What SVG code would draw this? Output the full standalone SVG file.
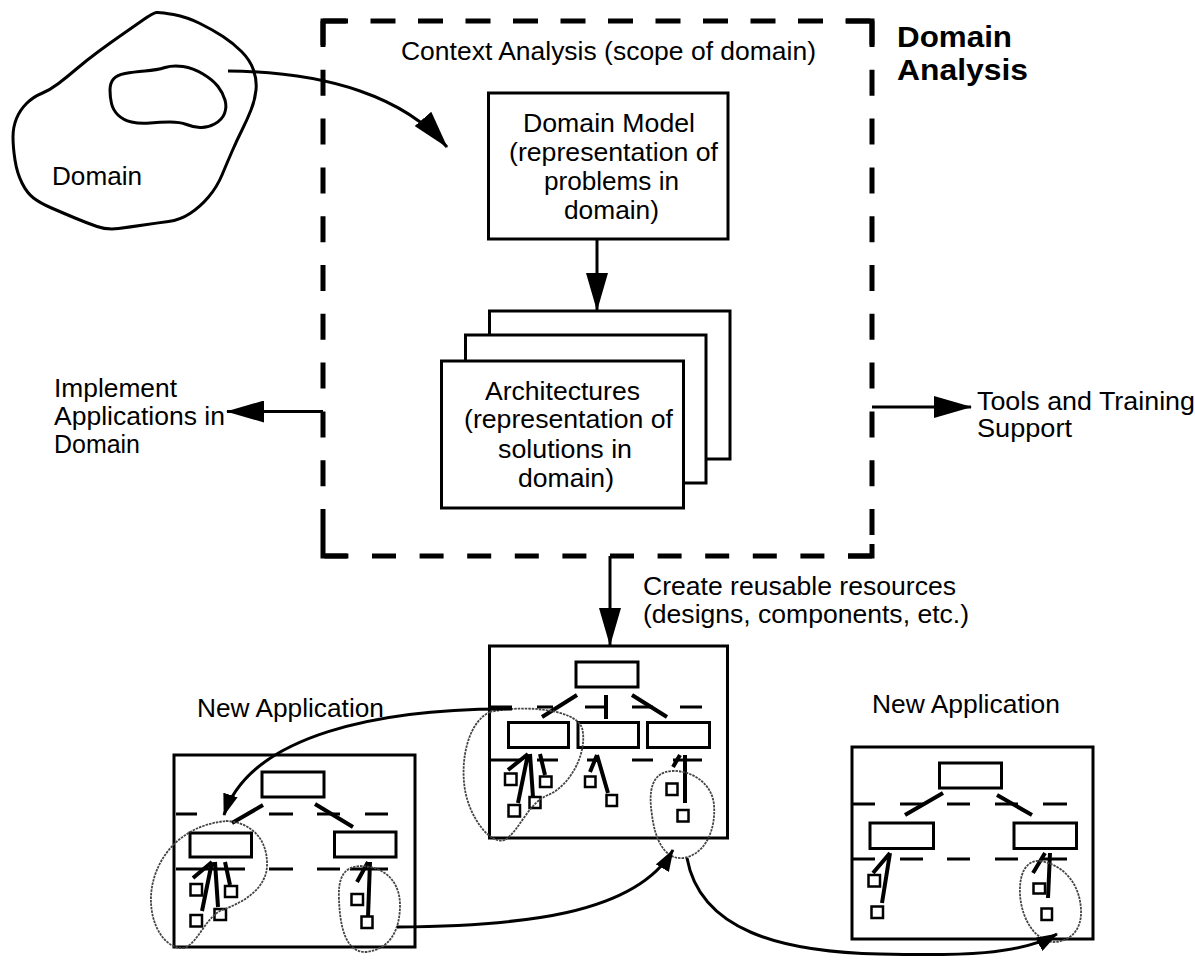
<svg xmlns="http://www.w3.org/2000/svg" width="1195" height="964" viewBox="0 0 1195 964">
<defs>
<style>
.t{font-family:'Liberation Sans',Arial,Helvetica,sans-serif;font-size:25px;fill:#000}
.b{font-weight:bold;font-size:29px}
.box{fill:#fff;stroke:#000;stroke-width:3}
.ln{fill:none;stroke:#000;stroke-width:3;stroke-linejoin:round}
.thk{fill:none;stroke:#000;stroke-width:4}
.dr{fill:none;stroke:#000;stroke-width:3}
.sq{fill:#fff;stroke:#000;stroke-width:2.5}
.dot{fill:none;stroke:#444;stroke-width:1.8;stroke-dasharray:2.5 1}
.bd{fill:none;stroke:#000;stroke-width:5}
</style>
<marker id="ah" markerUnits="userSpaceOnUse" markerWidth="38" markerHeight="22" viewBox="0 0 38 22" refX="37" refY="11" orient="auto"><path d="M0,0 L38,11 L0,22 Z" fill="#000"/></marker>
<marker id="ahs" markerUnits="userSpaceOnUse" markerWidth="22" markerHeight="15" viewBox="0 0 22 15" refX="21" refY="7.5" orient="auto"><path d="M0,0 L22,7.5 L0,15 Z" fill="#000"/></marker>
</defs>
<rect width="1195" height="964" fill="#fff"/>

<g id="domain">
<path class="ln" d="M156.5,12.5 Q160,12 173.5,14.5 Q187,17 200,23.5 Q213,30 223,36.5 Q233,43 241.5,51.5 Q250,60 253.5,70 Q257,80 256,90 Q255,100 251,110 Q247,120 242,130 Q237,140 232,151.5 Q227,163 222,175 Q217,187 208.5,197 Q200,207 190,213.5 Q180,220 168.5,221.5 Q157,223 143.5,225 Q130,227 118.5,228.5 Q107,230 97,226.5 Q87,223 75,218 Q63,213 51.5,208 Q40,203 33.5,198 Q27,193 22,183 Q17,173 15,160 Q13,147 13,137 Q13,127 16.5,118.5 Q20,110 26.5,103.5 Q33,97 41.5,93.5 Q50,90 58.5,83.5 Q67,77 77,68.5 Q87,60 98.5,51.5 Q110,43 121.5,35 Q133,27 143,20 Q153,13 156.5,12.5 Z"/>
<path class="ln" d="M110,90 Q110,83 113.5,79 Q117,75 125,73.5 Q133,72 145,71 Q157,70 165,67.5 Q173,65 183,66.5 Q193,68 203,74 Q213,80 218,86.5 Q223,93 225,100 Q227,107 224.5,113.5 Q222,120 214.5,124 Q207,128 200,127.5 Q193,127 186.5,124.5 Q180,122 170,122 Q160,122 150,123 Q140,124 131.5,122 Q123,120 118,115 Q113,110 111.5,103.5 Q110,97 110,90 Z"/>
<text class="t" x="52" y="185" textLength="90" lengthAdjust="spacingAndGlyphs">Domain</text>
</g>

<g id="domain-analysis">
<path class="bd" d="M323,21 V556" stroke-dasharray="26 22.8"/>
<path class="bd" d="M872,21 V556" stroke-dasharray="26 22.8"/>
<path class="bd" d="M323,21 H872" stroke-dasharray="25 22.5"/>
<path class="bd" d="M872,556 H323" stroke-dasharray="24 23.6"/>
<path class="bd" d="M323,45 V21 H346"/>
<path class="bd" d="M846,21 H872 V45"/>
<path class="bd" d="M872,544 V556 H848"/>
<path class="bd" d="M323,535 V556 H347"/>
<text class="t" x="401" y="60" textLength="415" lengthAdjust="spacingAndGlyphs">Context Analysis (scope of domain)</text>
<text class="t b" x="897" y="47" textLength="115" lengthAdjust="spacingAndGlyphs">Domain</text>
<text class="t b" x="897" y="80" textLength="131" lengthAdjust="spacingAndGlyphs">Analysis</text>
</g>

<g id="domain-model">
<rect class="box" x="488.5" y="93" width="239.5" height="146"/>
<text class="t" x="523" y="132" textLength="172" lengthAdjust="spacingAndGlyphs">Domain Model</text>
<text class="t" x="509" y="161" textLength="209" lengthAdjust="spacingAndGlyphs">(representation of</text>
<text class="t" x="544" y="190" textLength="135" lengthAdjust="spacingAndGlyphs">problems in</text>
<text class="t" x="564" y="219" textLength="95" lengthAdjust="spacingAndGlyphs">domain)</text>
</g>

<g id="architectures">
<rect class="box" x="489.5" y="311" width="240.5" height="148"/>
<rect class="box" x="465.5" y="335" width="240.5" height="148"/>
<rect class="box" x="441.5" y="361" width="242" height="147"/>
<text class="t" x="485" y="400" textLength="155" lengthAdjust="spacingAndGlyphs">Architectures</text>
<text class="t" x="464" y="428" textLength="209" lengthAdjust="spacingAndGlyphs">(representation of</text>
<text class="t" x="498" y="458" textLength="134" lengthAdjust="spacingAndGlyphs">solutions in</text>
<text class="t" x="518" y="487" textLength="96" lengthAdjust="spacingAndGlyphs">domain)</text>
</g>

<g id="implement">
<text class="t" x="54" y="397" textLength="123" lengthAdjust="spacingAndGlyphs">Implement</text>
<text class="t" x="54" y="425" textLength="171" lengthAdjust="spacingAndGlyphs">Applications in</text>
<text class="t" x="54" y="453" textLength="86" lengthAdjust="spacingAndGlyphs">Domain</text>
</g>

<g id="tools">
<text class="t" x="977" y="410" textLength="218" lengthAdjust="spacingAndGlyphs">Tools and Training</text>
<text class="t" x="977" y="437" textLength="95" lengthAdjust="spacingAndGlyphs">Support</text>
</g>

<g id="resources-label">
<text class="t" x="643" y="595" textLength="313" lengthAdjust="spacingAndGlyphs">Create reusable resources</text>
<text class="t" x="643" y="623" textLength="326" lengthAdjust="spacingAndGlyphs">(designs, components, etc.)</text>
</g>

<g id="app-center">
<rect class="box" x="489.5" y="646" width="238" height="192"/>
<rect class="box" x="576" y="662" width="62" height="25"/>
<path class="dr" d="M490,707 H512 M537,707 H553 M585,707 H607 M632,707 H653 M680,707 H702"/>
<path class="thk" d="M577,695 L542,717 M606,695 V719 M632,695 L667,717"/>
<rect class="box" x="508.5" y="722.5" width="60" height="25"/>
<rect class="box" x="578" y="722.5" width="60.5" height="25"/>
<rect class="box" x="647.5" y="722.5" width="62" height="25"/>
<path class="dr" d="M490,760 H520 M537,760 H558 M587,760 H598 M632,760 H653 M673,760 H702"/>
<path class="thk" d="M528,754 L508,770 M528,754 L518,803 M530,754 L533,797 M540,754 L545,775 M597,755 L590,772 M597,755 L608,793 M680,755 L673,767 M685,755 L685,803"/>
<rect class="sq" x="505" y="773.5" width="11.5" height="11.5"/>
<rect class="sq" x="508.5" y="805" width="11.5" height="11.5"/>
<rect class="sq" x="529.5" y="797" width="11" height="11"/>
<rect class="sq" x="540" y="776.5" width="11.5" height="10.5"/>
<rect class="sq" x="585" y="776.5" width="10.5" height="10.5"/>
<rect class="sq" x="606.5" y="795" width="10.5" height="11"/>
<rect class="sq" x="666.5" y="783.5" width="11" height="11.5"/>
<rect class="sq" x="677.5" y="810" width="11" height="11.5"/>
<path class="dot" d="M490,712 C520,705 575,708 582,728 C588,750 572,785 548,795 C528,803 520,830 505,840 C490,845 470,818 465,790 C460,760 468,722 490,712 Z"/>
<path class="dot" d="M672,771 C690,770 712,782 714,805 C716,830 705,855 683,858 C665,860 655,840 652,815 C648,790 652,772 672,771 Z"/>
</g>

<g id="app-left">
<text class="t" x="197" y="717" textLength="187" lengthAdjust="spacingAndGlyphs">New Application</text>
<rect class="box" x="174" y="755" width="241" height="192"/>
<rect class="box" x="262" y="772" width="62" height="25"/>
<path class="dr" d="M176,814 H197 M269,814 H293 M317,814 H340 M365,814 H388"/>
<path class="thk" d="M263,805 L232,823 M315,804 L353,827"/>
<rect class="box" x="190" y="833" width="61.5" height="24"/>
<rect class="box" x="334.5" y="832" width="61.5" height="25"/>
<path class="dr" d="M176,869 H245 M269,869 H293 M317,869 H340 M350,869 H388"/>
<path class="thk" d="M212,862 L193,878 M212,862 L202,911 M215,862 L218,907 M225,862 L230,885 M368,862 L357,882 M370,862 L368,917"/>
<rect class="sq" x="190.5" y="884" width="11.5" height="11.5"/>
<rect class="sq" x="190.5" y="915" width="11.5" height="11.5"/>
<rect class="sq" x="214.5" y="909" width="11.5" height="11"/>
<rect class="sq" x="225" y="886" width="12" height="11"/>
<rect class="sq" x="351.5" y="894" width="11.5" height="11"/>
<rect class="sq" x="361.5" y="916.5" width="11" height="11.5"/>
<path class="dot" d="M226,821 C250,822 268,838 267,866 C266,888 245,902 222,910 C205,918 200,940 185,948 C165,950 150,925 151,897 C152,865 175,826 226,821 Z"/>
<path class="dot" d="M360,866 C385,866 400,882 400,905 C400,930 390,950 365,952 C345,952 340,925 339,900 C338,880 342,867 360,866 Z"/>
</g>

<g id="app-right">
<text class="t" x="872" y="713" textLength="188" lengthAdjust="spacingAndGlyphs">New Application</text>
<rect class="box" x="852" y="747" width="241" height="192"/>
<rect class="box" x="939.5" y="763" width="62" height="25"/>
<path class="dr" d="M853,804 H875 M900,804 H923 M947,804 H970 M995,804 H1018 M1043,804 H1067"/>
<path class="thk" d="M943,793 L905,815 M997,795 L1032,815"/>
<rect class="box" x="870" y="823" width="63.5" height="25.5"/>
<rect class="box" x="1014" y="823" width="62.5" height="25.5"/>
<path class="dr" d="M853,859 H875 M900,859 H923 M947,859 H970 M995,859 H1018 M1043,859 H1067"/>
<path class="thk" d="M890,853 L873,873 M890,853 L882,903 M1045,853 L1033,873 M1050,853 L1048,898"/>
<rect class="sq" x="868.5" y="875" width="11.5" height="11.5"/>
<rect class="sq" x="871.5" y="906.5" width="11.5" height="11.5"/>
<rect class="sq" x="1033.5" y="883.5" width="11.5" height="10"/>
<rect class="sq" x="1041.5" y="908.5" width="10.5" height="11.5"/>
<path class="dot" d="M1040,861 C1065,865 1080,885 1081,910 C1082,930 1070,942 1053,942 C1035,940 1022,920 1020,895 C1019,875 1025,860 1040,861 Z"/>
</g>

<g id="connectors">
<path class="ln" d="M228,71 C330,72 405,98 447,147" marker-end="url(#ah)"/>
<path class="ln" d="M597,239 V310" marker-end="url(#ah)"/>
<path class="ln" d="M323,411.5 H227" marker-end="url(#ah)"/>
<path class="ln" d="M872,407 H971" marker-end="url(#ah)"/>
<path class="ln" d="M610,556 V645" marker-end="url(#ah)"/>
<path class="ln" d="M512,709 C380,708 250,735 224,815" marker-end="url(#ahs)"/>
<path class="ln" d="M397,927 C520,926 635,915 673,850" marker-end="url(#ahs)"/>
<path class="ln" d="M687,858 C700,930 780,952 880,954 C960,956 1020,955 1057,934" marker-end="url(#ahs)"/>
</g>
</svg>
